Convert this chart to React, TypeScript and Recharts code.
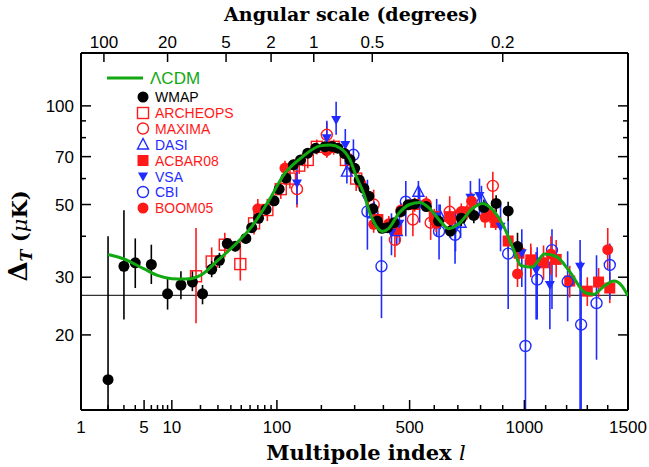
import React from 'react';
import { ComposedChart, Scatter, Line, XAxis, YAxis, ErrorBar, ReferenceLine, Legend } from 'recharts';

// multipole axis: log at low l, nearly linear at high l
const U = (l: number) => Math.log(l) + (l - 1) / 220.5;

const RED = '#ff1a1a';
const BLUE = '#1f2bff';
const GREEN = '#12a812';
const SANS = '"Liberation Sans", Arial, Helvetica, sans-serif';
const SERIF = '"DejaVu Serif", serif';

const PLOT_LEFT = 81;
const PLOT_TOP = 53;
const PLOT_RIGHT = 628;
const PLOT_BOTTOM = 410;
const Y_DOMAIN = [11.8, 145];

const BOTTOM_MAJOR = [1, 5, 10, 100, 500, 1000, 1500];
const BOTTOM_MINOR = [2, 3, 4, 6, 7, 8, 9, 20, 30, 40, 50, 60, 70, 80, 90, 200, 300, 400, 600, 700, 800, 900, 1100, 1200, 1300, 1400];
const TOP_DEGREES = [100, 20, 5, 2, 1, 0.5, 0.2];
const Y_MAJOR = [20, 30, 50, 70, 100];
const Y_MINOR = [40, 60, 80, 90];
const FLOOR_LEVEL = 26.4;

// WMAP
const wmapL = [2, 3, 4, 6, 9, 12.5, 16.5, 21, 26, 31, 37, 44, 55, 62, 71, 82, 95, 104, 117, 132, 148, 165, 185, 210, 230, 247, 268, 285, 300, 315, 331, 348, 362, 378, 395, 415, 440, 466, 494, 520, 567, 618, 668, 715, 770, 815, 870, 925, 968];
const wmapV = [14.6, 32.4, 33.2, 32.8, 26.7, 28.4, 29.0, 26.7, 31.7, 33.8, 38.0, 37.3, 39.4, 42.5, 45.4, 48.3, 51.3, 55.7, 60.2, 66.1, 68.4, 71.7, 74.3, 75.1, 75.2, 74.3, 71.5, 68.5, 64.5, 59.4, 56.0, 53.0, 48.5, 44.5, 42.3, 42.5, 44.0, 47.6, 49.9, 50.2, 49.3, 44.5, 41.5, 45.4, 46.3, 49.0, 50.4, 47.8, 37.2];
const wmapLo = [11.8, 22.3, 27.8, 28.6, 23.9, 25.7, 27.2, 24.8, 30, 32, 36.5, 36, 38, 41.2, 44, 47, 50, 54.3, 58.8, 64.7, 67, 70.3, 72.9, 73.7, 73.7, 72.8, 70, 67, 63, 58, 54.5, 51.5, 47, 43, 41, 41.2, 42.6, 46.2, 48.3, 48.5, 47.5, 42.5, 39.5, 43, 43.8, 46.2, 47.4, 44.6, 33.5];
const wmapHi = [40, 48, 39.4, 37.7, 29.8, 31.3, 31.3, 28.4, 33.6, 35.6, 39.5, 38.6, 40.8, 43.8, 46.8, 49.6, 52.6, 57.1, 61.6, 67.5, 69.8, 73.1, 75.7, 76.5, 76.7, 75.8, 73, 70, 66, 60.8, 57.5, 54.5, 50, 46, 43.6, 43.8, 45.4, 49, 51.5, 51.9, 51.1, 46.5, 43.5, 47.8, 48.8, 51.8, 53.4, 51, 41];

// ARCHEOPS
const archL = [18, 26, 35, 49, 65, 84, 107, 125, 145, 165, 188, 235, 272, 305];
const archV = [30.2, 33.5, 37.7, 32.9, 43.8, 48.1, 55.7, 60, 65.7, 68.4, 75, 75, 68.4, 60];
const archLo = [21.7, 30.5, 34.5, 29.3, 40.5, 44.5, 52, 56, 62, 64.5, 71, 71, 64, 55];
const archHi = [42.4, 37, 41, 38.6, 47.5, 52, 59.5, 64, 70, 72.5, 79, 79, 73, 65];

// MAXIMA
const maxL = [140, 215, 365, 443, 513, 585, 665, 855];
const maxV = [55.7, 81.6, 50, 39, 45, 44, 47.5, 57];
const maxLo = [49, 74, 44.5, 34.5, 40, 39, 42.5, 51];
const maxHi = [63, 89, 55.5, 44, 50, 49.5, 53, 63];

// DASI
const dasiL = [275, 367, 450, 535, 625, 712, 804];
const dasiV = [63, 47, 41.5, 54.7, 46, 44, 52];
const dasiLo = [58, 43, 37.5, 50.5, 42, 39.5, 47];
const dasiHi = [68, 51, 45.5, 59, 50, 48.5, 57];

// ACBAR08
const acbarL = [380, 450, 520, 600, 665, 740, 842, 868, 925, 975, 1030, 1090, 1150, 1215, 1300, 1355, 1410];
const acbarV = [45, 42, 50, 46, 45.9, 47.5, 46.5, 44.1, 38.7, 35.5, 33.9, 33.2, 34, 29.2, 27.2, 29, 27.8];
const acbarLo = [42, 39.5, 47.5, 43.5, 43.4, 45, 44, 41.8, 36, 32.5, 30, 29.5, 30, 26, 24.5, 26, 25];
const acbarHi = [48, 44.5, 52.5, 48.5, 48.4, 50, 49, 46.4, 41.5, 38.5, 38, 37.5, 39, 32.5, 30, 32, 31];

// VSA
const vsaL = [140, 215, 242, 270, 340, 430, 460, 540, 610, 690, 755, 795, 890, 988, 1055, 1120, 1265];
const vsaV = [58, 79.7, 90.6, 76, 52, 41, 43.7, 50, 46, 42, 52.4, 53.1, 42.8, 35.5, 31.5, 28.4, 32.3];
const vsaLo = [50, 70, 81.6, 66, 46, 35, 38, 44, 40, 36, 45, 46, 36, 28, 22.3, 20.8, 11.8];
const vsaHi = [66, 90, 103, 85, 58, 47, 49, 56, 52, 48, 59, 60, 50, 42, 35.8, 33.5, 39];

// CBI
const cbiL = [296, 343, 393, 485, 620, 688, 925, 1005, 1060, 1130, 1205, 1270, 1345, 1410];
const cbiV = [70.9, 47.6, 32.4, 51, 41.4, 40.4, 35.4, 18.5, 29.5, 36.3, 29.1, 21.5, 25, 32.7];
const cbiLo = [63, 36.4, 22.5, 40, 34, 33, 24, 11.8, 22.3, 24, 22, 11.8, 16.8, 25.7];
const cbiHi = [79, 59.5, 40, 59, 50, 46, 45, 34, 37, 42, 36, 33.5, 35, 38];

// BOOM05
const boomL = [70, 115, 215, 320, 365, 420, 466, 567, 608, 670, 715, 760, 820, 968, 1030, 1125, 1400];
const boomV = [48.5, 64.6, 73, 58.1, 43.5, 43.7, 48.1, 50.4, 43.8, 44.9, 47.6, 51.2, 45.7, 30.7, 33.7, 35.3, 36.4];
const boomLo = [45, 61, 69.5, 55, 41, 41.3, 45.6, 47.8, 41.2, 42.2, 44.8, 48, 42.5, 28, 30.5, 30.5, 31.7];
const boomHi = [52, 68, 76.5, 61.2, 46, 46.1, 50.6, 53, 46.4, 47.6, 50.4, 54.4, 48.9, 34.3, 37, 40, 42.4];

// LCDM model curve
const cdmL = [2, 3, 5, 7, 10, 14, 20, 30, 43, 62, 86, 115, 153, 196, 225, 255, 285, 305, 330, 352, 375, 397, 420, 458, 500, 540, 580, 625, 660, 708, 765, 810, 855, 905, 950, 985, 1035, 1095, 1150, 1215, 1290, 1330, 1380, 1430, 1470, 1500];
const cdmV = [35.2, 34.1, 31.8, 30.4, 29.7, 29.6, 30.4, 33.8, 37.5, 42.8, 51.3, 62.3, 70, 75.5, 76, 74.3, 68.4, 61, 54.1, 47, 42.8, 41.4, 42.3, 47, 50, 50.7, 48.7, 44.5, 42.2, 43.9, 48.7, 50.4, 48.1, 42.8, 36.4, 32.5, 32.2, 35.3, 34.7, 31.2, 26.9, 26.6, 28.1, 29.2, 28.2, 26.3];

const mk = (l: number[], v: number[], lo: number[], hi: number[]) =>
  l.map((x, i) => ({ u: U(x), l: x, v: v[i], e: [v[i] - lo[i], hi[i] - v[i]] }));

const cdmData = cdmL.map((x, i) => ({ u: U(x), l: x, v: cdmV[i] }));

type Kind = 'dot' | 'sq' | 'osq' | 'ocirc' | 'otri' | 'dtri';

function Marker({ kind, cx, cy, color }: { kind: Kind; cx: number; cy: number; color: string }) {
  const s = 5.5;
  switch (kind) {
    case 'dot':
      return <circle cx={cx} cy={cy} r={s} fill={color} />;
    case 'sq':
      return <rect x={cx - s} y={cy - s} width={2 * s} height={2 * s} fill={color} />;
    case 'osq':
      return <rect x={cx - s} y={cy - s} width={2 * s} height={2 * s} fill="none" stroke={color} strokeWidth={1.4} />;
    case 'ocirc':
      return <circle cx={cx} cy={cy} r={s} fill="none" stroke={color} strokeWidth={1.4} />;
    case 'otri':
      return <polygon points={`${cx},${cy - 6} ${cx - 5.5},${cy + 4.5} ${cx + 5.5},${cy + 4.5}`} fill="none" stroke={color} strokeWidth={1.4} />;
    case 'dtri':
      return <polygon points={`${cx - 5},${cy - 4} ${cx + 5},${cy - 4} ${cx},${cy + 5}`} fill={color} />;
  }
  return null;
}

const SERIES: { name: string; kind: Kind; color: string; data: any[] }[] = [
  { name: 'ARCHEOPS', kind: 'osq', color: RED, data: mk(archL, archV, archLo, archHi) },
  { name: 'MAXIMA', kind: 'ocirc', color: RED, data: mk(maxL, maxV, maxLo, maxHi) },
  { name: 'DASI', kind: 'otri', color: BLUE, data: mk(dasiL, dasiV, dasiLo, dasiHi) },
  { name: 'ACBAR08', kind: 'sq', color: RED, data: mk(acbarL, acbarV, acbarLo, acbarHi) },
  { name: 'VSA', kind: 'dtri', color: BLUE, data: mk(vsaL, vsaV, vsaLo, vsaHi) },
  { name: 'CBI', kind: 'ocirc', color: BLUE, data: mk(cbiL, cbiV, cbiLo, cbiHi) },
  { name: 'BOOM05', kind: 'dot', color: RED, data: mk(boomL, boomV, boomLo, boomHi) },
  { name: 'WMAP', kind: 'dot', color: '#000', data: mk(wmapL, wmapV, wmapLo, wmapHi) },
];

const LEGEND_ORDER = ['WMAP', 'ARCHEOPS', 'MAXIMA', 'DASI', 'ACBAR08', 'VSA', 'CBI', 'BOOM05'];

const findL = (u: number, list: number[]) => list.find((l) => Math.abs(U(l) - u) < 1e-6);

function BottomTick(p: any) {
  const l = findL(p.payload.value, BOTTOM_MAJOR.concat(BOTTOM_MINOR));
  const major = l !== undefined && BOTTOM_MAJOR.includes(l);
  return (
    <g>
      <line x1={p.x} x2={p.x} y1={PLOT_BOTTOM} y2={PLOT_BOTTOM - (major ? 10 : 5)} stroke="#000" strokeWidth={1.5} />
      {major && (
        <text x={p.x} y={PLOT_BOTTOM + 23} textAnchor="middle" fontFamily={SANS} fontSize={17} fill="#000">
          {l}
        </text>
      )}
    </g>
  );
}

function TopTick(p: any) {
  const deg = TOP_DEGREES.find((d) => Math.abs(U(180 / d) - p.payload.value) < 1e-6);
  return (
    <g>
      <line x1={p.x} x2={p.x} y1={PLOT_TOP} y2={PLOT_TOP + 9} stroke="#000" strokeWidth={1.5} />
      <text x={p.x} y={PLOT_TOP - 5} textAnchor="middle" fontFamily={SANS} fontSize={17} fill="#000">
        {deg}
      </text>
    </g>
  );
}

function LeftTick(p: any) {
  const v = p.payload.value;
  const major = Y_MAJOR.includes(v);
  return (
    <g>
      <line x1={PLOT_LEFT} x2={PLOT_LEFT + (major ? 10 : 5)} y1={p.y} y2={p.y} stroke="#000" strokeWidth={1.5} />
      {major && (
        <text x={PLOT_LEFT - 7} y={p.y + 6} textAnchor="end" fontFamily={SANS} fontSize={17} fill="#000">
          {v}
        </text>
      )}
    </g>
  );
}

function RightTick(p: any) {
  const major = Y_MAJOR.includes(p.payload.value);
  return <line x1={PLOT_RIGHT} x2={PLOT_RIGHT - (major ? 10 : 5)} y1={p.y} y2={p.y} stroke="#000" strokeWidth={1.5} />;
}

function LegendBox() {
  const rowsY = [31, 47, 62.5, 78.5, 94.5, 110.5, 126, 142];
  return (
    <svg width={160} height={160} style={{ overflow: 'visible' }}>
      <line x1={7} x2={43} y1={12} y2={12} stroke={GREEN} strokeWidth={3} />
      <text x={50} y={18} fontFamily={SANS} fontSize={17} fill={GREEN}>ΛCDM</text>
      {LEGEND_ORDER.map((name, i) => {
        const s = SERIES.find((x) => x.name === name)!;
        return (
          <g key={name}>
            <Marker kind={s.kind} cx={43} cy={rowsY[i]} color={s.color} />
            <text x={55} y={rowsY[i] + 5} fontFamily={SANS} fontSize={14} fill={s.color}>
              {name}
            </text>
          </g>
        );
      })}
    </svg>
  );
}

export default function App() {
  const xDomain = [0, U(1500)];
  return (
    <div style={{ position: 'relative', width: 649, height: 467, background: '#fff' }}>
      <style>{'body{margin:0;background:#fff}'}</style>
      <ComposedChart width={649} height={467} margin={{ top: 0, right: 0, bottom: 0, left: 0 }}>
        <XAxis
          xAxisId="bottom"
          orientation="bottom"
          type="number"
          dataKey="u"
          domain={xDomain}
          ticks={BOTTOM_MAJOR.concat(BOTTOM_MINOR).map(U)}
          interval={0}
          height={467 - PLOT_BOTTOM}
          axisLine={{ stroke: '#000', strokeWidth: 2 }}
          tickLine={false}
          tick={BottomTick}
          allowDataOverflow
          label={{
            content: () => (
              <text x={366} y={460} textAnchor="middle" fontFamily={SERIF} fontWeight="bold" fontSize={21} fill="#000">
                Multipole index <tspan fontStyle="italic" fontWeight="normal">l</tspan>
              </text>
            ),
          }}
        />
        <XAxis
          xAxisId="top"
          orientation="top"
          type="number"
          dataKey="u"
          domain={xDomain}
          ticks={TOP_DEGREES.map((d) => U(180 / d))}
          interval={0}
          height={PLOT_TOP}
          axisLine={{ stroke: '#000', strokeWidth: 2 }}
          tickLine={false}
          tick={TopTick}
          allowDataOverflow
          label={{
            content: () => (
              <text x={351} y={21} textAnchor="middle" fontFamily={SERIF} fontWeight="bold" fontSize={19} fill="#000">
                Angular scale (degrees)
              </text>
            ),
          }}
        />
        <YAxis
          yAxisId="left"
          orientation="left"
          dataKey="v"
          scale="log"
          type="number"
          domain={Y_DOMAIN}
          ticks={Y_MAJOR.concat(Y_MINOR)}
          interval={0}
          width={PLOT_LEFT}
          axisLine={{ stroke: '#000', strokeWidth: 2 }}
          tickLine={false}
          tick={LeftTick}
          allowDataOverflow
          label={{
            content: () => (
              <text transform="translate(27,236) rotate(-90)" textAnchor="middle" fontFamily={SERIF} fontWeight="bold" fill="#000">
                <tspan fontSize={26}>Δ</tspan>
                <tspan fontSize={16} fontStyle="italic" dy={5}>T</tspan>
                <tspan fontSize={21} dy={-5}> (</tspan>
                <tspan fontSize={21} fontStyle="italic" fontWeight="normal">μ</tspan>
                <tspan fontSize={21}>K)</tspan>
              </text>
            ),
          }}
        />
        <YAxis
          yAxisId="right"
          orientation="right"
          dataKey="v"
          scale="log"
          type="number"
          domain={Y_DOMAIN}
          ticks={Y_MAJOR.concat(Y_MINOR)}
          interval={0}
          width={649 - PLOT_RIGHT}
          axisLine={{ stroke: '#000', strokeWidth: 2 }}
          tickLine={false}
          tick={RightTick}
          allowDataOverflow
        />
        <ReferenceLine xAxisId="bottom" yAxisId="left" y={FLOOR_LEVEL} stroke="#333" strokeWidth={1.3} />
        {SERIES.map((s) => (
          <Scatter
            key={s.name}
            name={s.name}
            xAxisId="bottom"
            yAxisId="left"
            data={s.data}
            dataKey="v"
            isAnimationActive={false}
            shape={(p: any) => <Marker kind={s.kind} cx={p.cx} cy={p.cy} color={s.color} />}
          >
            <ErrorBar dataKey="e" direction="y" width={0} stroke={s.color} strokeWidth={1.6} isAnimationActive={false} />
          </Scatter>
        ))}
        <Line
          xAxisId="bottom"
          yAxisId="left"
          data={cdmData}
          dataKey="v"
          type="monotone"
          stroke={GREEN}
          strokeWidth={3}
          dot={false}
          activeDot={false}
          isAnimationActive={false}
          zIndex={900}
        />
        <Legend
          layout="horizontal"
          verticalAlign="middle"
          align="center"
          wrapperStyle={{ left: 100, top: 66, width: 160, height: 160 }}
          content={() => <LegendBox />}
        />
      </ComposedChart>
    </div>
  );
}
